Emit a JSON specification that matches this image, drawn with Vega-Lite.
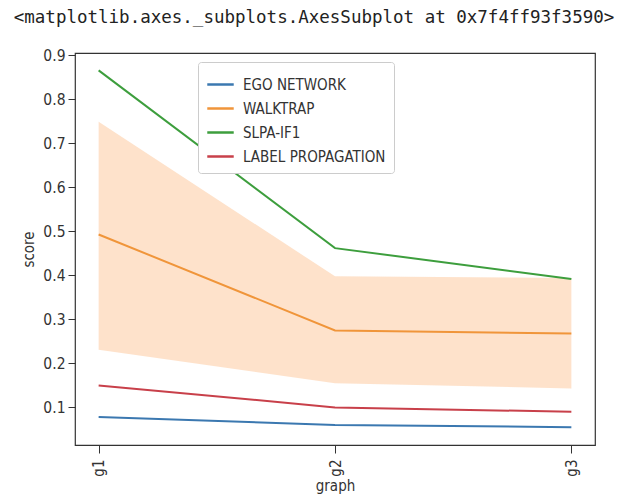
{
  "$schema": "https://vega.github.io/schema/vega-lite/v6.json",
  "autosize": "none",
  "width": 520,
  "height": 392,
  "padding": {"left": 75, "top": 53, "right": 24, "bottom": 59},
  "background": "white",
  "config": {
    "view": {"stroke": "#333333", "strokeWidth": 1.2},
    "font": "DejaVu Sans Condensed, Liberation Sans Narrow, DejaVu Sans, sans-serif"
  },
  "title": {
    "text": "<matplotlib.axes._subplots.AxesSubplot at 0x7f4ff93f3590>",
    "font": "DejaVu Sans Mono",
    "fontSize": 17.5,
    "fontWeight": "normal",
    "color": "#222222",
    "anchor": "middle",
    "offset": 22,
    "dx": -21
  },
  "datasets": {
    "lines": [
      {"graph": "g1", "method": "EGO NETWORK", "score": 0.078},
      {"graph": "g2", "method": "EGO NETWORK", "score": 0.060},
      {"graph": "g3", "method": "EGO NETWORK", "score": 0.055},
      {"graph": "g1", "method": "WALKTRAP", "score": 0.493},
      {"graph": "g2", "method": "WALKTRAP", "score": 0.275},
      {"graph": "g3", "method": "WALKTRAP", "score": 0.268},
      {"graph": "g1", "method": "SLPA-IF1", "score": 0.866},
      {"graph": "g2", "method": "SLPA-IF1", "score": 0.462},
      {"graph": "g3", "method": "SLPA-IF1", "score": 0.392},
      {"graph": "g1", "method": "LABEL PROPAGATION", "score": 0.150},
      {"graph": "g2", "method": "LABEL PROPAGATION", "score": 0.100},
      {"graph": "g3", "method": "LABEL PROPAGATION", "score": 0.090}
    ],
    "band": [
      {"graph": "g1", "lo": 0.231, "hi": 0.749},
      {"graph": "g2", "lo": 0.155, "hi": 0.398},
      {"graph": "g3", "lo": 0.143, "hi": 0.394}
    ]
  },
  "encoding": {
    "x": {
      "field": "graph",
      "type": "ordinal",
      "scale": {"type": "point", "padding": 0.1, "domain": ["g1", "g2", "g3"]},
      "axis": {
        "title": "graph",
        "labelAngle": 270,
        "labelFontSize": 15,
        "labelColor": "#333333",
        "titleFontSize": 15,
        "titleFontWeight": "normal",
        "titleColor": "#333333",
        "titlePadding": 2,
        "tickSize": 8,
        "tickColor": "#333333",
        "labelPadding": 6,
        "domain": false,
        "grid": false
      }
    }
  },
  "layer": [
    {
      "data": {"name": "band"},
      "mark": {"type": "area", "color": "#fb8a2e", "opacity": 0.25},
      "encoding": {
        "y": {"field": "lo", "type": "quantitative"},
        "y2": {"field": "hi"}
      }
    },
    {
      "data": {"name": "lines"},
      "mark": {"type": "line", "strokeWidth": 2},
      "encoding": {
        "y": {
          "field": "score",
          "type": "quantitative",
          "scale": {"domain": [0.0145, 0.9055], "nice": false, "zero": false},
          "axis": {
            "title": "score",
            "values": [0.1, 0.2, 0.3, 0.4, 0.5, 0.6, 0.7, 0.8, 0.9],
            "format": ".1f",
            "labelFontSize": 15.5,
            "labelColor": "#333333",
            "titleFontSize": 15,
            "titleFontWeight": "normal",
            "titleColor": "#333333",
            "titlePadding": 6,
            "tickSize": 7,
            "tickColor": "#333333",
            "labelPadding": 3,
            "domain": false,
            "grid": false
          }
        },
        "color": {
          "field": "method",
          "type": "nominal",
          "scale": {
            "domain": ["EGO NETWORK", "WALKTRAP", "SLPA-IF1", "LABEL PROPAGATION"],
            "range": ["#3b78b0", "#f0953a", "#3d9e3d", "#c8404a"]
          },
          "legend": {
            "title": null,
            "orient": "none",
            "legendX": 123,
            "legendY": 9,
            "symbolType": "stroke",
            "symbolSize": 700,
            "symbolStrokeWidth": 2.5,
            "labelFontSize": 15,
            "labelColor": "#333333",
            "labelOffset": 8,
            "rowPadding": 1,
            "padding": 8,
            "strokeColor": "#cccccc",
            "fillColor": "white",
            "cornerRadius": 3
          }
        }
      }
    }
  ]
}
